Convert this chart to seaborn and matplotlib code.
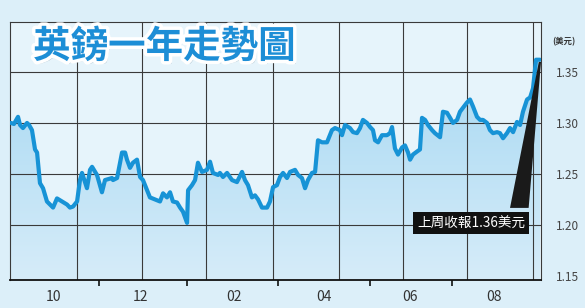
import numpy as np
import pandas as pd
import matplotlib
matplotlib.use("Agg")
import matplotlib.pyplot as plt
import matplotlib.patheffects as pe
import seaborn as sns

# ---- data (day offset from start of one-year window, GBP/USD rate) ----
days = [0.7, 2.7, 5.5, 6.9, 8.9, 11.7, 13.1, 15.1, 17.2, 18.6, 20.6, 22.7, 25.4, 27.5,
        29.6, 32.3, 35.7, 39.2, 41.2, 43.3, 46.1, 48.1, 49.5, 52.9, 55.0, 56.4, 59.8,
        63.2, 65.3, 70.1, 70.8, 73.6, 75.6, 77.0, 79.1, 80.4, 82.5, 84.5, 87.3, 89.4,
        91.4, 94.2, 96.2, 99.7, 103.1, 105.2, 107.9, 110.0, 112.0, 114.8, 116.9, 118.9,
        121.7, 122.4, 125.1, 127.2, 129.2, 132.0, 135.4, 137.5, 139.5, 143.0, 144.3,
        146.4, 149.2, 152.6, 156.0, 159.5, 161.5, 163.6, 166.3, 168.4, 170.5, 173.2,
        176.7, 178.7, 180.8, 183.5, 185.6, 187.7, 190.4, 192.5, 195.9, 198.0, 200.7,
        202.8, 204.8, 207.6, 209.7, 211.7, 214.5, 217.9, 221.3, 223.4, 226.8, 228.2,
        230.3, 233.7, 235.8, 238.5, 240.6, 242.6, 245.4, 247.5, 249.5, 250.9, 253.0,
        255.7, 259.1, 261.2, 262.6, 264.6, 266.7, 269.5, 271.5, 273.6, 275.0, 277.0,
        279.8, 281.8, 283.2, 285.3, 287.3, 290.1, 292.1, 295.6, 297.6, 300.4, 302.5,
        304.5, 307.3, 309.3, 311.4, 314.1, 316.2, 318.3, 321.0, 323.1, 325.1, 327.9,
        329.9, 332.0, 334.8, 336.8, 338.9, 341.6, 343.7, 345.8, 348.5, 350.6, 352.6,
        355.4, 357.5, 359.5, 361.6, 364.3]
rate = [1.300, 1.299, 1.306, 1.298, 1.295, 1.300, 1.298, 1.293, 1.274, 1.271, 1.241,
        1.236, 1.223, 1.220, 1.217, 1.226, 1.223, 1.220, 1.217, 1.218, 1.223, 1.244,
        1.251, 1.236, 1.254, 1.257, 1.249, 1.232, 1.244, 1.246, 1.244, 1.246, 1.261,
        1.271, 1.271, 1.264, 1.256, 1.261, 1.264, 1.247, 1.244, 1.234, 1.227, 1.225,
        1.223, 1.231, 1.227, 1.232, 1.223, 1.222, 1.217, 1.213, 1.202, 1.234, 1.239,
        1.244, 1.261, 1.252, 1.254, 1.262, 1.251, 1.249, 1.251, 1.247, 1.251, 1.244,
        1.242, 1.252, 1.244, 1.239, 1.227, 1.229, 1.225, 1.217, 1.217, 1.223, 1.237,
        1.239, 1.247, 1.251, 1.246, 1.252, 1.254, 1.249, 1.246, 1.236, 1.244, 1.251,
        1.252, 1.283, 1.281, 1.281, 1.293, 1.295, 1.293, 1.288, 1.298, 1.295, 1.291,
        1.290, 1.295, 1.303, 1.300, 1.296, 1.293, 1.283, 1.281, 1.288, 1.288, 1.290,
        1.296, 1.275, 1.269, 1.276, 1.278, 1.271, 1.264, 1.269, 1.272, 1.274, 1.305,
        1.303, 1.298, 1.293, 1.290, 1.286, 1.311, 1.310, 1.305, 1.300, 1.303, 1.311,
        1.315, 1.320, 1.323, 1.316, 1.306, 1.303, 1.303, 1.300, 1.293, 1.290, 1.291,
        1.290, 1.285, 1.290, 1.295, 1.291, 1.301, 1.298, 1.311, 1.323, 1.325, 1.334,
        1.362, 1.362]

month_labels = ["10", "12", "02", "04", "06", "08"]
month_label_pos = [30.2, 89.4, 154.0, 215.8, 275.0, 332.7]
tick_mark_pos = [61.2, 121.7, 184.2, 247.5, 303.8]
vgrid_pos = [46.1, 90.7, 134.7, 180.8, 226.2, 270.1, 314.1, 359.5]
y_ticks = [1.15, 1.20, 1.25, 1.30, 1.35]
y_tick_labels = ["1.15", "1.20", "1.25", "1.30", "1.35"]
title_text = "英鎊一年走勢圖"
unit_text = "(美元)"
note_text = "上周收報1.36美元"

df = pd.DataFrame({"day": days, "rate": rate})

sns.set_theme(style="white")
plt.rcParams["font.family"] = ["Noto Sans CJK TC", "DejaVu Sans"]

BG = "#dceff9"
fig = plt.figure(figsize=(5.85, 3.08), dpi=100, facecolor=BG)
ax = fig.add_axes([0.0171, 0.0909, 0.9077, 0.8377])
ax.set_facecolor("#e6f4fb")

xmin, xmax = 0, 365
ymin, ymax = 1.146, 1.399
ax.set_xlim(xmin, xmax)
ax.set_ylim(ymin, ymax)

# gradient fill under the line
poly = ax.fill_between(df["day"], df["rate"], ymin, color="none", lw=0, zorder=1)
top_c = np.array([166, 216, 242]) / 255
bot_c = np.array([214, 236, 249]) / 255
t = np.linspace(0, 1, 256)[:, None]
grad = (top_c[None, :] * (1 - t) + bot_c[None, :] * t)[:, None, :]
img = ax.imshow(grad, extent=[xmin, xmax, ymin, 1.37], origin="upper",
                aspect="auto", zorder=1)
path = poly.get_paths()[0]
img.set_clip_path(path, transform=ax.transData)

# grid lines
for v in vgrid_pos:
    ax.axvline(v, color="#3a3a3a", lw=0.8, zorder=2)
for h in y_ticks[1:]:
    ax.axhline(h, color="#3a3a3a", lw=0.8, zorder=2)

sns.lineplot(data=df, x="day", y="rate", ax=ax, color="#1793d6", lw=3,
             zorder=4, solid_joinstyle="round", solid_capstyle="round")

# annotation wedge + label
ax.fill([343.7, 356.5, 365.0, 363.5], [1.2167, 1.2167, 1.3598, 1.3598],
        color="#1a1a1a", zorder=5, lw=0)
ax.text(317.0, 1.2015, note_text, color="white", fontsize=9.8, ha="center",
        va="center", zorder=6,
        bbox=dict(boxstyle="square,pad=0.3", fc="#111111", ec="none"))

# axes styling
ax.set_xlabel("")
ax.set_ylabel("")
for s in ["left", "top", "right"]:
    ax.spines[s].set_color("#3a3a3a")
    ax.spines[s].set_linewidth(0.8)
ax.spines["bottom"].set_color("#111111")
ax.spines["bottom"].set_linewidth(1.3)

ax.set_xticks(month_label_pos)
ax.set_xticklabels(month_labels, fontsize=10, color="#333333")
ax.tick_params(axis="x", which="major", length=0, pad=7)
ax.set_xticks(tick_mark_pos, minor=True)
ax.tick_params(axis="x", which="minor", bottom=True, length=4, width=1.2,
               color="#111111", direction="out")

ax.yaxis.tick_right()
ax.set_yticks(y_ticks)
ax.set_yticklabels(y_tick_labels, fontsize=8.5, color="#444444")
ax.tick_params(axis="y", length=0, pad=11)
ax.grid(False)

# title and unit
fig.text(0.281, 0.850, title_text, fontsize=27, fontweight="black",
         color="#1d8ed6", ha="center", va="center",
         path_effects=[pe.SimplePatchShadow(offset=(2, -2), shadow_rgbFace="#8aa7b8", alpha=0.6),
                       pe.withStroke(linewidth=5, foreground="white")])
fig.text(0.944, 0.866, unit_text, fontsize=6, fontweight="bold",
         color="#333333", ha="left", va="center")

fig.savefig("out.png", dpi=100, facecolor=BG)
